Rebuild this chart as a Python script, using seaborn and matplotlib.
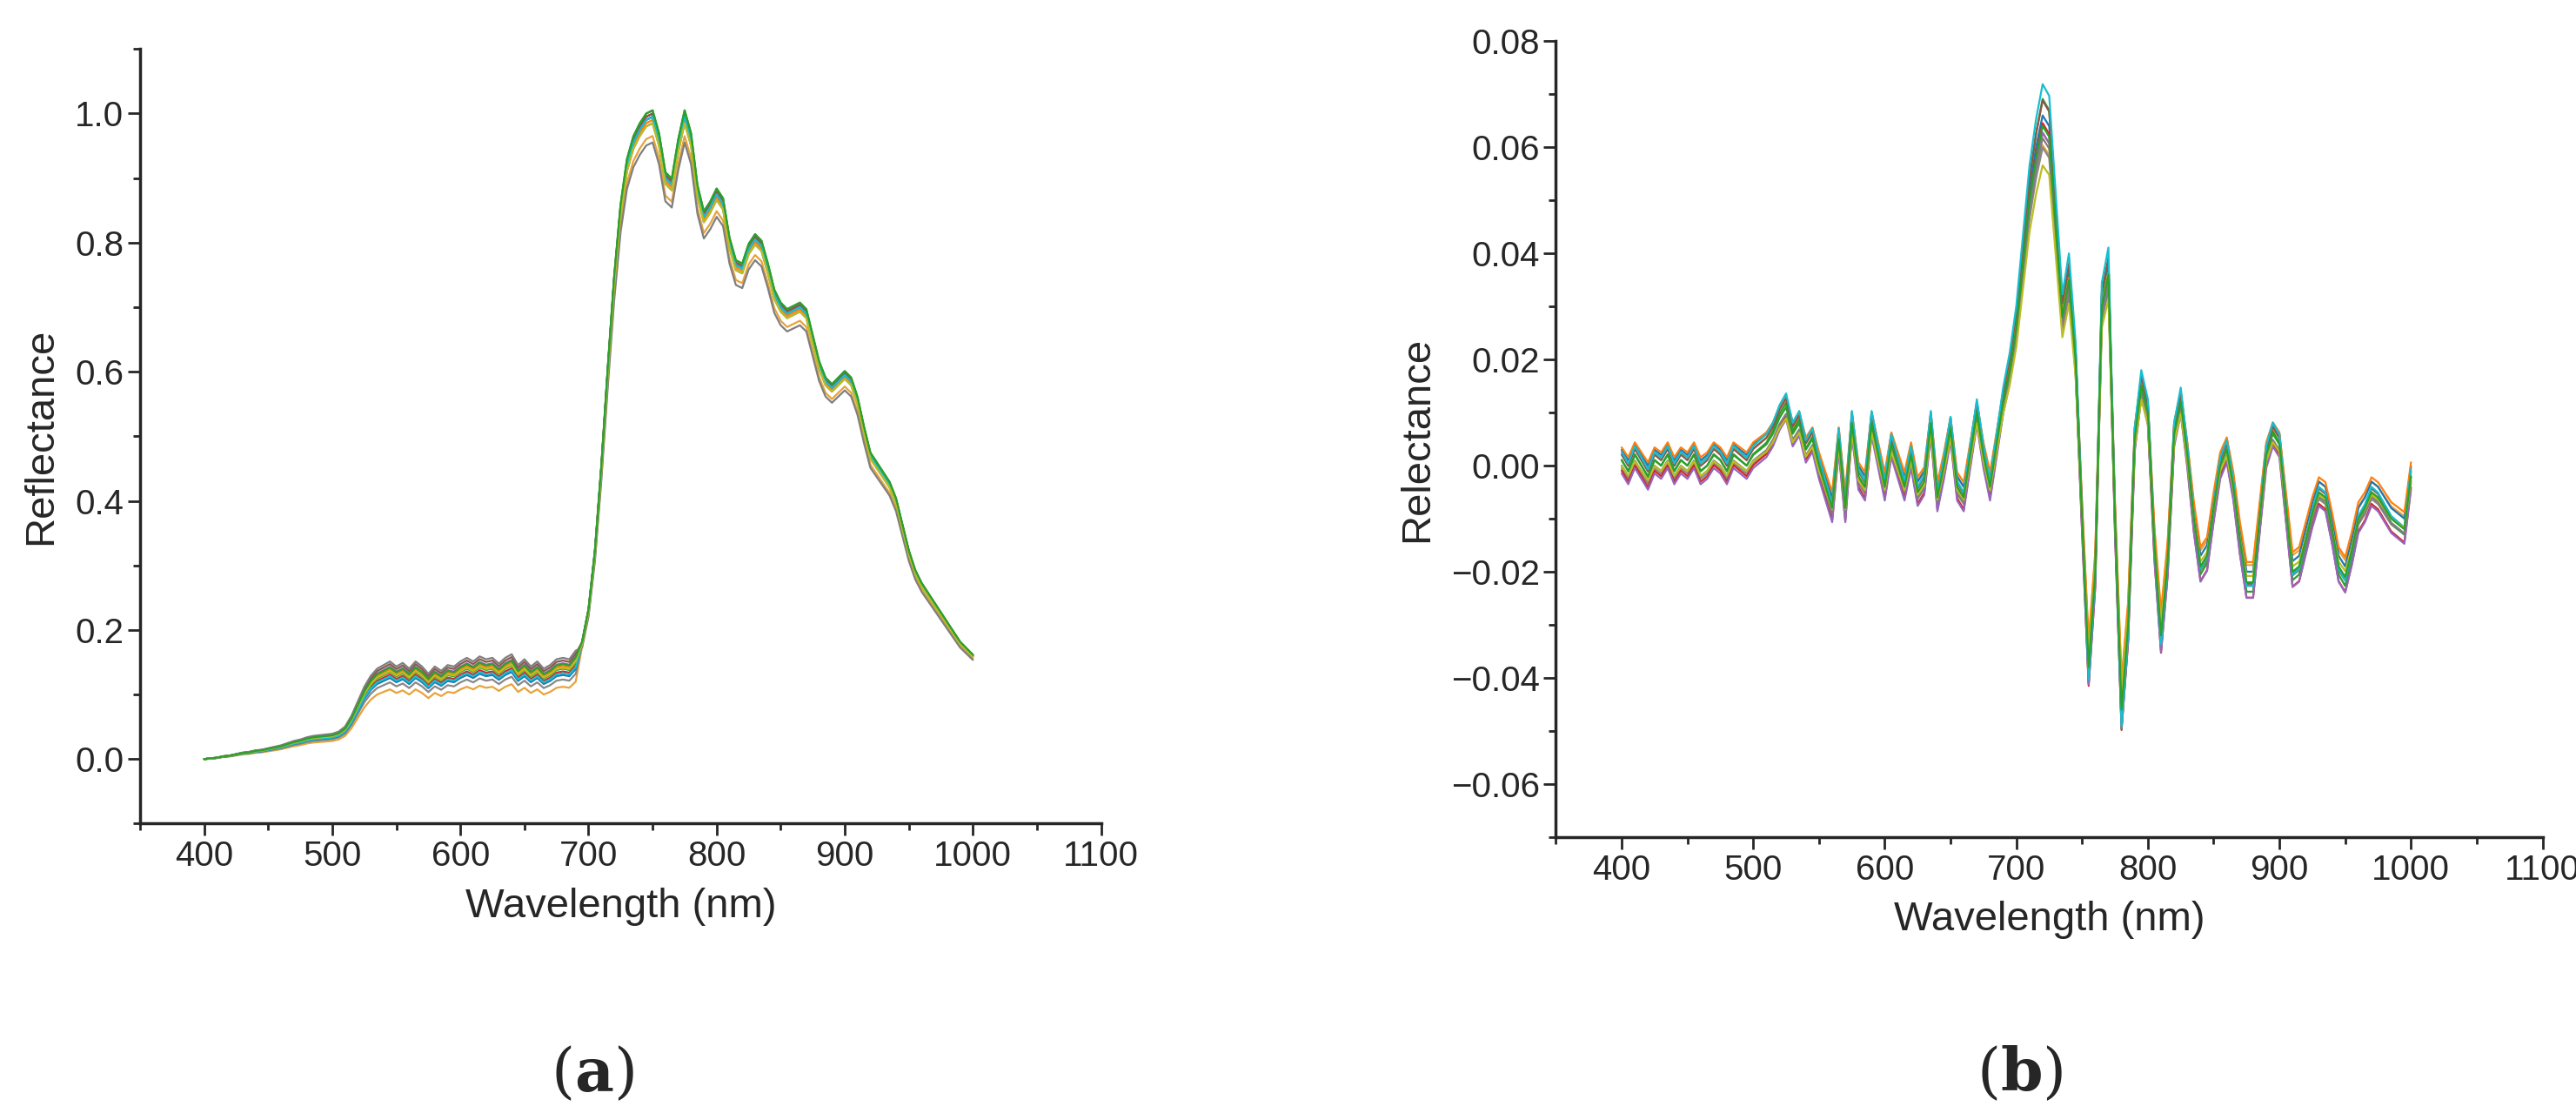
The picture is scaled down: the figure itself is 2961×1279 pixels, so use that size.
import numpy as np
import pandas as pd
import matplotlib
matplotlib.use("Agg")
import matplotlib.pyplot as plt
import seaborn as sns

sns.set_style("ticks")
plt.rcParams['font.family'] = ['Liberation Sans', 'DejaVu Sans']
plt.rcParams['mathtext.fontset'] = 'dejavuserif'

wavelength = list(range(400, 1001, 5))

refl_a = [0.0,0.001,0.002,0.004,0.005,0.007,0.009,0.010,0.012,0.013,0.015,0.017,0.019,0.022,0.025,0.027,
          0.030,0.032,0.033,0.034,0.035,0.038,0.045,0.060,0.080,0.100,0.115,0.125,0.130,0.135,0.128,0.133,
          0.125,0.135,0.128,0.118,0.128,0.122,0.130,0.128,0.135,0.140,0.135,0.142,0.138,0.140,0.132,0.140,
          0.145,0.130,0.138,0.128,0.135,0.125,0.130,0.138,0.140,0.138,0.150,0.180,0.230,0.320,0.450,0.600,
          0.740,0.850,0.920,0.955,0.975,0.990,0.995,0.960,0.900,0.890,0.950,0.995,0.960,0.880,0.840,0.855,
          0.875,0.860,0.800,0.765,0.760,0.790,0.805,0.795,0.760,0.720,0.700,0.690,0.695,0.700,0.690,0.650,
          0.610,0.585,0.575,0.585,0.595,0.585,0.555,0.510,0.470,0.455,0.440,0.425,0.400,0.360,0.320,0.290,
          0.270,0.255,0.240,0.225,0.210,0.195,0.180,0.170,0.160]

refl_b = [0.001,-0.001,0.002,0.0,-0.002,0.001,0.0,0.002,-0.001,0.001,0.0,0.002,-0.001,0.0,0.002,0.001,
          -0.001,0.002,0.001,0.0,0.002,0.003,0.004,0.006,
          0.009,0.011,0.006,0.008,0.003,0.005,0.000,-0.004,-0.008,0.005,-0.008,0.008,-0.002,-0.004,0.008,0.002,
          -0.004,0.004,0.000,-0.004,0.002,-0.005,-0.003,0.008,-0.006,0.0,0.007,-0.004,-0.006,0.002,0.010,0.002,
          -0.004,0.004,0.012,0.018,0.026,0.038,0.050,0.058,0.064,0.062,0.045,0.028,0.035,0.020,-0.010,-0.038,
          -0.020,0.030,0.036,-0.010,-0.046,-0.030,0.005,0.015,0.010,-0.015,-0.032,-0.018,0.006,0.012,0.002,
          -0.010,-0.019,-0.017,-0.008,0.000,0.003,-0.004,-0.014,-0.022,-0.022,-0.010,0.002,0.006,0.004,-0.008,
          -0.020,-0.019,-0.014,-0.009,-0.005,-0.006,-0.012,-0.019,-0.021,-0.016,-0.010,-0.008,-0.005,-0.006,
          -0.008,-0.010,-0.011,-0.012,-0.002]

# per-sample variation
vis_scale = [0.80, 0.88, 0.93, 0.97, 1.00, 1.03, 1.06, 1.09, 1.12, 0.95, 1.01, 1.05]
nir_scale = [0.97, 0.99, 1.00, 1.005, 1.01, 0.995, 1.0, 1.005, 0.96, 1.0, 0.99, 1.01]
b_scale = [0.92, 0.96, 1.0, 1.04, 1.08, 0.94, 1.02, 1.06, 0.98, 1.10, 0.90, 1.0]
b_offset = [0.0015, -0.0015, 0.002, -0.002, 0.0, 0.0025, -0.0025, 0.001, -0.001, 0.0015, -0.001, 0.0]
colors = ["#e8a33a", "#888888", "#1f77b4", "#d62728", "#2ca02c", "#ff7f0e", "#9467bd",
          "#8c564b", "#7f7f7f", "#17becf", "#bcbd22", "#2ca02c"]

assert len(refl_a) == len(wavelength) and len(refl_b) == len(wavelength)
wl = np.array(wavelength, float)
ba = np.array(refl_a)
bb = np.array(refl_b)
rows_a, rows_b = [], []
for i in range(len(vis_scale)):
    ya = np.where(wl < 695, ba * vis_scale[i], ba * nir_scale[i])
    yb = bb * b_scale[i] + b_offset[i]
    rows_a.append(pd.DataFrame({"wl": wl, "y": ya, "s": i}))
    rows_b.append(pd.DataFrame({"wl": wl, "y": yb, "s": i}))
da = pd.concat(rows_a)
db = pd.concat(rows_b)

fig = plt.figure(figsize=(29.61, 12.79), dpi=100)
ax1 = fig.add_axes([0.0544, 0.260, 0.373, 0.696])
ax2 = fig.add_axes([0.604, 0.248, 0.383, 0.715])

sns.lineplot(data=da, x="wl", y="y", hue="s", palette=colors, lw=1.6, legend=False, ax=ax1, estimator=None)
sns.lineplot(data=db, x="wl", y="y", hue="s", palette=colors, lw=1.6, legend=False, ax=ax2, estimator=None)

fmt = lambda d: matplotlib.ticker.FuncFormatter(lambda v, p: f"{v:.{d}f}".replace("-", "\u2212"))
for ax in (ax1, ax2):
    ax.set_xlim(350, 1100)
    ax.set_xticks(range(400, 1101, 100))
    ax.set_xticks(range(350, 1101, 50), minor=True)
    ax.spines["top"].set_visible(False)
    ax.spines["right"].set_visible(False)
    for s in ("left", "bottom"):
        ax.spines[s].set_linewidth(2.5)
    ax.tick_params(which="major", length=10, width=2, labelsize=29)
    ax.tick_params(which="minor", length=6, width=2)
    ax.set_xlabel("Wavelength (nm)", fontsize=34, labelpad=12)

ax1.set_ylim(-0.1, 1.1)
ax1.set_yticks([0.0, 0.2, 0.4, 0.6, 0.8, 1.0])
ax1.set_yticks(np.arange(-0.1, 1.11, 0.1), minor=True)
ax1.yaxis.set_major_formatter(fmt(1))
ax1.set_ylabel("Reflectance", fontsize=34, labelpad=12)

ax2.set_ylim(-0.07, 0.08)
ax2.set_yticks([-0.06, -0.04, -0.02, 0.0, 0.02, 0.04, 0.06, 0.08])
ax2.set_yticks(np.arange(-0.07, 0.081, 0.01), minor=True)
ax2.yaxis.set_major_formatter(fmt(2))
ax2.set_ylabel("Relectance", fontsize=34, labelpad=12)

fig.text(0.23, 0.035, r"($\mathbf{a}$)", fontsize=50, family="DejaVu Serif", ha="center", va="center")
fig.text(0.784, 0.035, r"($\mathbf{b}$)", fontsize=50, family="DejaVu Serif", ha="center", va="center")

fig.savefig("out.png", dpi=100)
